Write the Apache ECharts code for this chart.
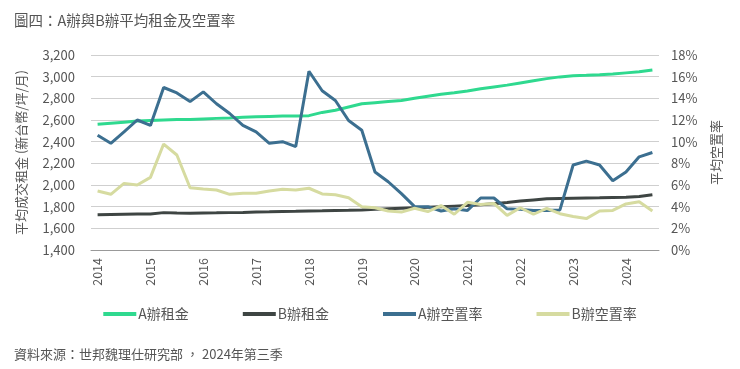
<!DOCTYPE html>
<html>
<head>
<meta charset="utf-8">
<script src="https://cdn.jsdelivr.net/npm/echarts@6/dist/echarts.min.js"></script>
<style>
html,body{margin:0;padding:0;background:#fff;}
#c{width:740px;height:369px;}
</style>
</head>
<body>
<div id="c"></div>
<script>
// Quarterly categories 2014Q1 .. 2024Q3
const years = ['2014','2015','2016','2017','2018','2019','2020','2021','2022','2023','2024'];
const categories = [];
years.forEach(y => { ['Q1','Q2','Q3','Q4'].forEach(q => categories.push(y + q)); });
categories.splice(43); // through 2024Q3

const rentA = [2560,2570,2580,2590,2595,2600,2605,2605,2610,2615,2618,2625,2630,2633,2636,2638,2640,2670,2690,2720,2750,2760,2770,2780,2800,2820,2838,2852,2868,2888,2905,2922,2942,2962,2982,2998,3008,3012,3018,3025,3035,3045,3062];
const rentB = [1725,1728,1730,1732,1733,1745,1742,1740,1742,1743,1745,1747,1750,1752,1755,1757,1760,1762,1765,1767,1770,1775,1780,1785,1790,1795,1800,1805,1810,1818,1828,1838,1852,1862,1872,1876,1878,1880,1882,1885,1888,1893,1910];
const vacA = [10.6,9.85,10.9,12.0,11.5,15.0,14.5,13.7,14.6,13.5,12.6,11.5,10.9,9.85,10.0,9.55,16.5,14.7,13.8,11.95,11.05,7.2,6.3,5.2,4.0,4.0,3.6,3.8,3.65,4.8,4.8,3.8,3.75,3.65,3.65,3.7,7.85,8.2,7.85,6.4,7.2,8.6,9.0];
const vacB = [5.45,5.14,6.15,6.0,6.7,9.78,8.77,5.75,5.63,5.54,5.14,5.23,5.23,5.45,5.6,5.54,5.7,5.17,5.1,4.83,4.0,3.9,3.6,3.5,3.85,3.55,4.1,3.3,4.4,4.2,4.3,3.2,3.9,3.3,3.85,3.35,3.1,2.9,3.6,3.65,4.25,4.45,3.6];

const seriesNames = ['A辦租金','B辦租金','A辦空置率','B辦空置率'];
const colors = ['#2fd98f','#3e4543','#3c6f90','#d6dba0'];
const titleText = '圖四：A辦與B辦平均租金及空置率';
const sourceText = '資料來源：世邦魏理仕研究部{p|，}2024年第三季';
const leftAxisName = '平均成交租金 (新台幣/坪/月)';
const rightAxisName = '平均空置率';

const FONT = '"Noto Sans CJK TC", "Noto Sans", sans-serif';
const chart = echarts.init(document.getElementById('c'), null, {renderer:'canvas'});
chart.setOption({
  animation: false,
  backgroundColor: '#fff',
  textStyle: {fontFamily: FONT},
  title: [
    {text: titleText, left: 9, top: 8, textStyle:{fontSize:14.5, fontWeight:'normal', color:'#555', fontFamily: FONT}},
    {text: sourceText, left: 9, top: 343, textStyle:{fontSize:13, fontWeight:'normal', color:'#555', fontFamily: FONT,
      rich:{p:{fontSize:13, color:'#555', fontFamily: FONT, padding:[0,3,0,3]}}}}
  ],
  legend: {
    data: seriesNames,
    top: 302,
    left: 'center',
    icon: 'rect',
    itemWidth: 33,
    itemHeight: 4,
    itemGap: 54,
    textStyle: {fontSize: 14, color:'#555', fontFamily: FONT, padding:[0,0,0,-3]}
  },
  grid: {left: 91, right: 81, top: 55, bottom: 119, containLabel: false, outerBoundsMode: 'none'},
  xAxis: {
    type: 'category',
    data: categories,
    boundaryGap: true,
    axisLine: {lineStyle:{color:'#999'}},
    axisTick: {interval: 0, length: 5, lineStyle:{color:'#999'}},
    axisLabel: {interval: 3, rotate: 90, margin: 8, fontSize: 12.5, color:'#555', fontFamily: FONT,
      formatter: v => v.slice(0,4)}
  },
  yAxis: [
    {type:'value', min:1400, max:3200, interval:200,
     name: leftAxisName, nameLocation:'middle', nameRotate:90, nameGap:63,
     nameTextStyle:{fontSize:13, color:'#555', fontFamily: FONT},
     axisLine:{show:false}, axisTick:{show:false},
     axisLabel:{margin:16, fontSize:13, color:'#555', fontFamily: FONT,
       formatter: v => v.toLocaleString('en-US')},
     splitLine:{lineStyle:{color:'#cfcfcf'}}},
    {type:'value', min:0, max:18, interval:2,
     name: rightAxisName, nameLocation:'middle', nameRotate:90, nameGap:51,
     nameTextStyle:{fontSize:13, color:'#555', fontFamily: FONT},
     axisLine:{show:false}, axisTick:{show:false},
     axisLabel:{margin:12, fontSize:13, color:'#555', fontFamily: FONT, formatter:'{value}%'},
     splitLine:{show:false}}
  ],
  series: [
    {name: seriesNames[0], type:'line', yAxisIndex:0, data: rentA, symbol:'none', lineStyle:{width:3, color:colors[0]}, itemStyle:{color:colors[0]}},
    {name: seriesNames[1], type:'line', yAxisIndex:0, data: rentB, symbol:'none', lineStyle:{width:3, color:colors[1]}, itemStyle:{color:colors[1]}},
    {name: seriesNames[2], type:'line', yAxisIndex:1, data: vacA, symbol:'none', lineStyle:{width:3, color:colors[2]}, itemStyle:{color:colors[2]}},
    {name: seriesNames[3], type:'line', yAxisIndex:1, data: vacB, symbol:'none', lineStyle:{width:3, color:colors[3]}, itemStyle:{color:colors[3]}}
  ]
});
</script>
</body>
</html>
